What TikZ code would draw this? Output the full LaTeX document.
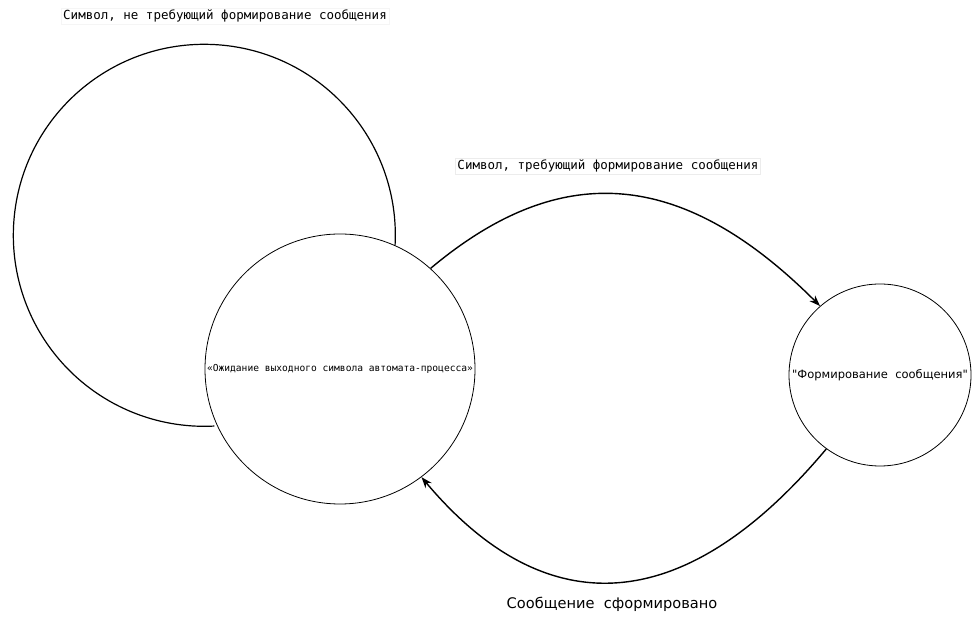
\documentclass[tikz,border=0pt]{standalone}
\usepackage{fontspec}
\setmainfont{DejaVu Sans}
\setmonofont{DejaVu Sans Mono}
\usepackage{tikz}
\usetikzlibrary{arrows.meta,positioning}

\begin{document}
\begin{tikzpicture}[
    x=1pt, y=1pt,
    state/.style={circle, draw, line width=0.8pt, inner sep=0pt},
    arrow/.style={-{Stealth[length=11pt, width=8pt]}, line width=1.4pt},
    label/.style={draw=gray!15, fill=white, inner sep=2pt, font=\ttfamily\fontsize{12.5}{14}\selectfont}
  ]
  \useasboundingbox (0,0) rectangle (977,642);

  % States
  \node[state, minimum size=270pt, font=\ttfamily\fontsize{9.6}{11}\selectfont] (wait) at (340,273) {«Ожидание выходного символа автомата-процесса»};
  \node[state, minimum size=182pt, font=\fontsize{11.5}{13}\selectfont] (form) at (880,267) {\textquotedbl Формирование\ \ сообщения\textquotedbl};

  % Self loop
  \draw[line width=1.2pt] (wait.66) arc[start angle=-3, end angle=273, radius=191];
  \node[label, draw=gray!8] (loopl) at (225,626) {Символ, не требующий формирование сообщения};

  % Transitions
  \draw[arrow] (wait.48) .. controls +(40:165) and +(135:200) .. (form.131);
  \node[label] (tol) at (608,476) {Символ, требующий формирование сообщения};
  \draw[arrow] (form.234) .. controls +(230:226) and +(310:189) .. (wait.307);
  \node[font=\fontsize{14.6}{16}\selectfont] (backl) at (612,38) {Сообщение\ \ сформировано};
\end{tikzpicture}
\end{document}
